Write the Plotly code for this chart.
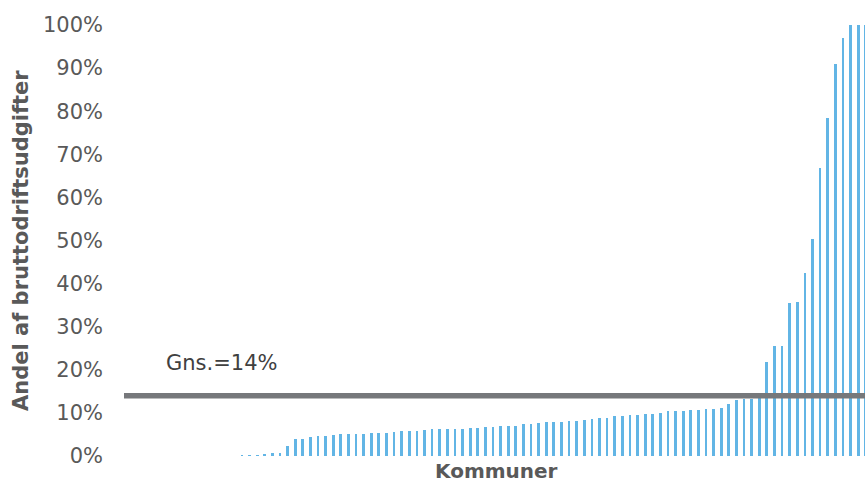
import plotly.graph_objects as go

# Share of gross operating expenditure per municipality (sorted), percent
values = [0]*15 + [
    0.08, 0.08, 0.23, 0.31, 0.70, 0.70, 2.32, 3.94, 3.94, 4.41,
    4.56, 4.72, 4.87, 5.03, 5.03, 5.10, 5.10, 5.34, 5.34, 5.41,
    5.57, 5.80, 5.88, 5.88, 5.96, 6.19, 6.19, 6.26,
    6.26, 6.26, 6.42, 6.50, 6.73, 6.73, 6.96, 7.04, 7.04, 7.35,
    7.35, 7.73, 7.81, 7.81, 7.89, 8.04, 8.12, 8.28, 8.58, 8.82,
    8.89, 9.20, 9.36, 9.44, 9.59, 9.67, 9.74, 10.0, 10.4, 10.4,
    10.4, 10.6, 10.7, 10.8, 10.8, 11.2, 12.1, 13.1, 13.3, 13.3,
    14.6, 21.7, 25.5, 25.5, 35.6, 35.8, 42.4, 50.3, 66.8, 78.4,
    91.0, 97.1, 100, 100, 100,
]
kommuner = list(range(len(values)))
average = 14
avg_label = "Gns.=14%"
y_ticks = [0, 10, 20, 30, 40, 50, 60, 70, 80, 90, 100]
y_ticktext = [f"{v}%" for v in y_ticks]
y_title = "Andel af bruttodriftsudgifter"
x_title = "Kommuner"

FONT = "DejaVu Sans"

fig = go.Figure()
fig.add_trace(go.Bar(
    x=kommuner, y=values, width=0.36,
    marker=dict(color="#62B5E5", line=dict(width=0)),
    hoverinfo="skip",
))
fig.add_trace(go.Scatter(
    x=[-0.6, len(values)], y=[average, average], mode="lines",
    line=dict(color="#76787B", width=5.5), hoverinfo="skip",
))

fig.add_annotation(
    x=0.0, y=average, xref="paper", yref="y", text=avg_label,
    showarrow=False, xanchor="left", yanchor="middle",
    xshift=40, yshift=33,
    font=dict(family=FONT, size=21, color="#404040"),
)
fig.add_annotation(
    x=(len(values) - 1) / 2, y=0, xref="x", yref="paper", text=f"<b>{x_title}</b>",
    showarrow=False, xanchor="center", yanchor="middle", yshift=-15,
    font=dict(family=FONT, size=20, color="#595959"),
)
fig.add_annotation(
    x=0, y=0.5, xref="paper", yref="paper", text=f"<b>{y_title}</b>",
    showarrow=False, textangle=-90, xanchor="center", yanchor="middle",
    xshift=-103, yshift=-3,
    font=dict(family=FONT, size=21, color="#595959"),
)

fig.update_layout(
    width=865, height=483,
    margin=dict(l=124, r=0, t=20, b=27),
    plot_bgcolor="white", paper_bgcolor="white",
    showlegend=False, bargap=0,
    xaxis=dict(range=[-0.5, 96.9], showticklabels=False, showgrid=False,
               zeroline=False, showline=False, ticks=""),
    yaxis=dict(range=[0, 100 * 436 / 431], tickvals=y_ticks, ticktext=y_ticktext,
               showgrid=False, zeroline=False, showline=False,
               ticklabelstandoff=20,
               tickfont=dict(family=FONT, size=21, color="#595959")),
)

fig.write_html("out.html")
